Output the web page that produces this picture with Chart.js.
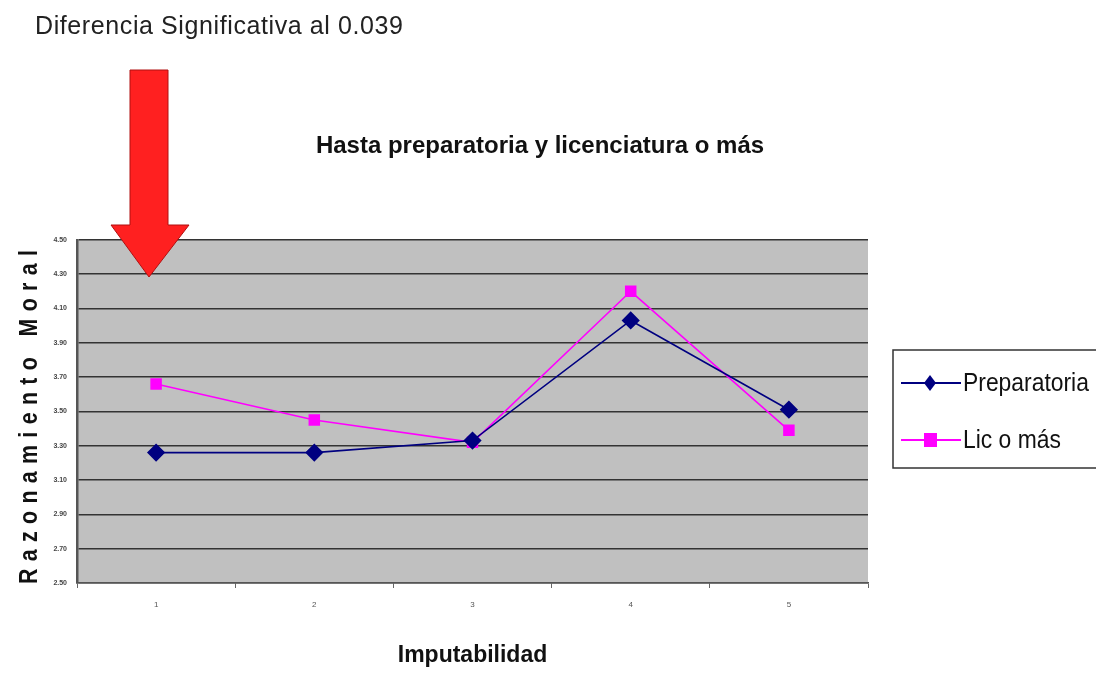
<!DOCTYPE html>
<html lang="es">
<head>
<meta charset="UTF-8">
<title>Hasta preparatoria y licenciatura o más</title>
<script src="https://cdn.jsdelivr.net/npm/chart.js"></script>
<style>
    html, body { margin: 0; padding: 0; background: #fff; }
    #wrap { position: relative; width: 1096px; height: 674px; }
    #nota {
        position: absolute; left: 35px; top: 10px; line-height: 30px;
        font-family: "Liberation Sans", Arial, sans-serif; font-size: 25px;
        letter-spacing: 0.6px; color: #222;
    }
    #flecha { position: absolute; left: 108px; top: 68px; }
</style>
</head>
<body>
<div id="wrap">
    <canvas id="grafica" width="1096" height="674"></canvas>
    <div id="nota">Diferencia Significativa al 0.039</div>
    <svg id="flecha" width="84" height="212">
        <polygon points="22,2 60,2 60,157 81,157 41,209 3,157 22,157"
                 fill="#ff2020" stroke="#b01010" stroke-width="1"/>
    </svg>
</div>

<script>
    // datos
    const categorias = ['1', '2', '3', '4', '5'];
    const preparatoria = [3.26, 3.26, 3.33, 4.03, 3.51];
    const licOMas = [3.66, 3.45, 3.32, 4.20, 3.39];
    const yMin = 2.5, yMax = 4.5, yPaso = 0.2;

    const sans = '"Liberation Sans", Arial, sans-serif';

    // fondo gris del área de trazado
    const fondo = {
        id: 'fondo',
        beforeDraw(chart) {
            const { ctx, chartArea: a } = chart;
            ctx.save();
            ctx.fillStyle = '#c0c0c0';
            ctx.fillRect(a.left, a.top, a.right - a.left, a.bottom - a.top);
            ctx.restore();
        }
    };

    // título del eje Y, letras angostas y espaciadas
    const tituloY = {
        id: 'tituloY',
        afterDraw(chart) {
            const { ctx, chartArea: a } = chart;
            ctx.save();
            ctx.translate(37, (a.top + a.bottom) / 2 + 2);
            ctx.rotate(-Math.PI / 2);
            ctx.scale(0.82, 1);
            ctx.font = 'bold 26px ' + sans;
            ctx.letterSpacing = '9px';
            ctx.fillStyle = '#111';
            ctx.textAlign = 'center';
            ctx.textBaseline = 'alphabetic';
            ctx.fillText('Razonamiento Moral', 0, 0);
            ctx.restore();
        }
    };

    // leyenda estilo Excel (línea con marcador)
    const leyenda = {
        id: 'leyenda',
        afterDraw(chart) {
            const { ctx } = chart;
            const x0 = 893, y0 = 350, w = 210, h = 118;
            ctx.save();
            ctx.fillStyle = '#fff';
            ctx.fillRect(x0, y0, w, h);
            ctx.strokeStyle = '#333';
            ctx.lineWidth = 1.5;
            ctx.strokeRect(x0, y0, w, h);
            chart.data.datasets.forEach((ds, i) => {
                const y = 383 + i * 57;
                ctx.strokeStyle = ds.borderColor;
                ctx.lineWidth = 2;
                ctx.beginPath();
                ctx.moveTo(901, y);
                ctx.lineTo(961, y);
                ctx.stroke();
                ctx.fillStyle = ds.backgroundColor;
                ctx.beginPath();
                if (ds.pointStyle === 'rectRot') {
                    ctx.moveTo(930, y - 8); ctx.lineTo(936, y); ctx.lineTo(930, y + 8); ctx.lineTo(924, y);
                } else {
                    ctx.rect(924, y - 7, 13, 14);
                }
                ctx.fill();
                ctx.save();
                ctx.translate(963, y);
                ctx.scale(0.88, 1);
                ctx.fillStyle = '#111';
                ctx.font = '26px ' + sans;
                ctx.textBaseline = 'middle';
                ctx.fillText(ds.label, 0, 1);
                ctx.restore();
            });
            ctx.restore();
        }
    };

    const ctx = document.getElementById('grafica').getContext('2d');
    new Chart(ctx, {
        type: 'line',
        data: {
            labels: categorias,
            datasets: [{
                label: 'Preparatoria',
                data: preparatoria,
                borderColor: '#000080',
                backgroundColor: '#000080',
                borderWidth: 1.6,
                pointStyle: 'rectRot',
                pointRadius: 8,
                tension: 0
            }, {
                label: 'Lic o más',
                data: licOMas,
                borderColor: '#ff00ff',
                backgroundColor: '#ff00ff',
                borderWidth: 1.6,
                pointStyle: 'rect',
                pointRadius: 7,
                tension: 0
            }]
        },
        options: {
            responsive: false,
            animation: false,
            layout: { padding: { left: 0, right: 16, top: 0, bottom: 0 } },
            plugins: {
                legend: { display: false },
                tooltip: { enabled: false },
                title: {
                    display: true,
                    text: 'Hasta preparatoria y licenciatura o más',
                    color: '#111',
                    font: { family: sans, size: 24, weight: 'bold' },
                    padding: { top: 132, bottom: 79 }
                }
            },
            scales: {
                x: {
                    offset: true,
                    grid: { display: true, drawOnChartArea: false, drawTicks: true, tickLength: 5, color: '#666', offset: true },
                    border: { color: '#555', width: 1.5 },
                    ticks: { color: '#555', font: { size: 8 }, padding: 12 },
                    title: {
                        display: true,
                        text: 'Imputabilidad',
                        color: '#111',
                        font: { family: sans, size: 23, weight: 'bold' },
                        padding: { top: 0, bottom: 5 }
                    },
                    afterFit(scale) { scale.height = 91; }
                },
                y: {
                    min: yMin,
                    max: yMax,
                    grid: { color: '#333', lineWidth: 1.5, drawTicks: false },
                    border: { color: '#555', width: 2.5 },
                    ticks: {
                        stepSize: yPaso,
                        color: '#444',
                        padding: 10,
                        font: { size: 7, weight: 'bold' },
                        callback: v => v.toFixed(2)
                    },
                    afterFit(scale) { scale.width = 77; }
                },
                // eje vacío que reserva el espacio de la leyenda a la derecha
                derecha: {
                    position: 'right',
                    display: true,
                    grid: { display: false },
                    border: { display: false },
                    ticks: { display: false },
                    afterFit(scale) { scale.width = 212; }
                }
            }
        },
        plugins: [fondo, tituloY, leyenda]
    });
</script>
</body>
</html>
